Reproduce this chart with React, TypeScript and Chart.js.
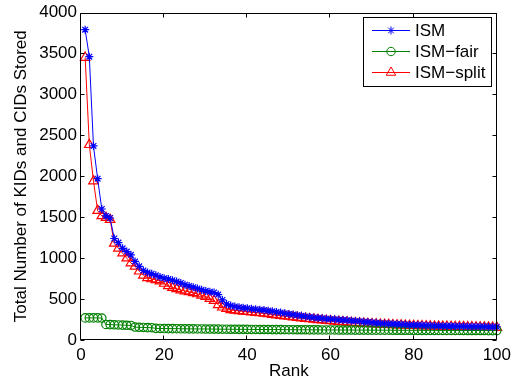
import React, { useEffect, useRef } from "react";
import { Chart, registerables } from "chart.js";
import { drawPoint } from "chart.js/helpers";

Chart.register(...registerables);

// ---------- data ----------
const ranks: number[] = Array.from({ length: 100 }, (_, i) => i + 1);

const ismValues: number[] = [
  3790, 3460, 2370, 1970, 1600, 1515, 1490, 1240, 1190, 1120,
  1080, 1040, 960, 900, 850, 825, 810, 790, 770, 755,
  745, 730, 715, 695, 675, 660, 645, 630, 615, 600,
  590, 580, 555, 490, 440, 420, 410, 400, 395, 388,
  382, 376, 370, 365, 358, 350, 342, 335, 326, 318,
  310, 303, 295, 288, 282, 275, 270, 265, 260, 256,
  252, 248, 244, 240, 236, 232, 228, 224, 220, 215,
  210, 206, 203, 200, 197, 194, 191, 188, 186, 184,
  182, 180, 178, 177, 175, 174, 172, 171, 170, 169,
  168, 167, 166, 166, 165, 164, 164, 163, 162, 162,
];

const ismFairValues: number[] = [
  270, 270, 270, 270, 268, 190, 188, 186, 184, 182,
  180, 178, 158, 155, 153, 151, 150, 142, 141, 140,
  139, 139, 138, 137, 137, 136, 136, 135, 135, 134,
  134, 133, 133, 132, 132, 131, 131, 130, 130, 130,
  129, 129, 128, 128, 128, 127, 127, 127, 126, 126,
  126, 125, 125, 125, 124, 124, 124, 123, 123, 123,
  123, 122, 122, 122, 122, 121, 121, 121, 121, 120,
  120, 120, 120, 120, 119, 119, 119, 119, 119, 118,
  118, 118, 118, 118, 118, 117, 117, 117, 117, 117,
  117, 116, 116, 116, 116, 116, 116, 115, 115, 115,
];

const ismSplitValues: number[] = [
  3450, 2385, 1940, 1580, 1515, 1495, 1470, 1180, 1120, 1060,
  1000, 940, 900, 840, 790, 760, 745, 735, 720, 690,
  660, 640, 625, 610, 598, 588, 576, 562, 545, 530,
  505, 480, 430, 400, 382, 368, 362, 356, 350, 345,
  340, 335, 330, 325, 318, 310, 303, 297, 292, 287,
  280, 274, 268, 262, 257, 252, 247, 242, 237, 233,
  228, 224, 220, 216, 212, 208, 205, 202, 199, 196,
  193, 190, 188, 186, 184, 182, 180, 178, 176, 174,
  172, 171, 170, 168, 167, 166, 165, 164, 163, 162,
  161, 160, 159, 158, 157, 156, 155, 154, 153, 152,
];

const seriesLabels: string[] = ["ISM", "ISM\u2212fair", "ISM\u2212split"];
const xTickValues: number[] = [0, 20, 40, 60, 80, 100];
const yTickValues: number[] = [0, 500, 1000, 1500, 2000, 2500, 3000, 3500, 4000];
const xTitle = "Rank";
const yTitle = "Total Number of KIDs and CIDs Stored";

// ---------- styles ----------
const FONT = "'Liberation Sans', Arial, Helvetica, sans-serif";
const FONT_SIZE = 17;
const colors = ["#0000ff", "#008000", "#ff0000"];
const pointStyles = ["star", "circle", "triangle"];
const pointRadii = [4, 4.2, 5.5];

const framePlugin = {
  id: "matlabFrame",
  afterDraw(chart: any) {
    const { ctx, chartArea, scales } = chart;
    const left = Math.round(chartArea.left) - 0.5;
    const right = Math.round(chartArea.right) - 0.5;
    const top = Math.round(chartArea.top) + 0.5;
    const bottom = Math.round(chartArea.bottom) - 0.5;
    const tl = 4;
    ctx.save();
    ctx.strokeStyle = "#000";
    ctx.lineWidth = 1;
    ctx.beginPath();
    ctx.rect(left, top, right - left, bottom - top);
    for (const v of xTickValues) {
      const px = Math.round(scales.x.getPixelForValue(v)) - 0.5;
      ctx.moveTo(px, bottom);
      ctx.lineTo(px, bottom - tl);
      ctx.moveTo(px, top);
      ctx.lineTo(px, top + tl);
    }
    for (const v of yTickValues) {
      const py = Math.round(scales.y.getPixelForValue(v)) + 0.5;
      ctx.moveTo(left, py);
      ctx.lineTo(left + tl, py);
      ctx.moveTo(right, py);
      ctx.lineTo(right - tl, py);
    }
    ctx.stroke();

    // legend
    const lx = 363.5, ly = 17.5, lw = 128, lh = 69;
    ctx.fillStyle = "#fff";
    ctx.fillRect(lx, ly, lw, lh);
    ctx.strokeRect(lx, ly, lw, lh);
    ctx.font = `${FONT_SIZE}px ${FONT}`;
    ctx.textBaseline = "middle";
    ctx.textAlign = "left";
    chart.data.datasets.forEach((ds: any, i: number) => {
      const y = 30.5 + i * 21;
      ctx.strokeStyle = ds.borderColor;
      ctx.lineWidth = 1;
      ctx.beginPath();
      ctx.moveTo(372, y);
      ctx.lineTo(410, y);
      ctx.stroke();
      ctx.fillStyle = "rgba(0,0,0,0)";
      drawPoint(ctx, { pointStyle: ds.pointStyle, radius: ds.pointRadius, borderWidth: 1, rotation: 0 }, 391, y);
      ctx.fillStyle = "#000";
      ctx.fillText(ds.label, 415, y + 1);
    });
    ctx.restore();
  },
};

export default function App() {
  const canvasRef = useRef<HTMLCanvasElement | null>(null);

  useEffect(() => {
    if (!canvasRef.current) return;
    const seriesValues = [ismValues, ismFairValues, ismSplitValues];
    const chart = new Chart(canvasRef.current, {
      type: "line",
      data: {
        datasets: seriesValues.map((vals, i) => ({
          label: seriesLabels[i],
          data: ranks.map((r, k) => ({ x: r, y: vals[k] })),
          borderColor: colors[i],
          borderWidth: 1,
          backgroundColor: "rgba(0,0,0,0)",
          pointStyle: pointStyles[i],
          pointRadius: pointRadii[i],
          pointBorderColor: colors[i],
          pointBackgroundColor: "rgba(0,0,0,0)",
          pointBorderWidth: 1.2,
          tension: 0,
          fill: false,
          clip: false,
        })),
      },
      options: {
        animation: false,
        responsive: false,
        maintainAspectRatio: false,
        layout: { padding: { left: 0, right: 18, top: 10, bottom: 0 } },
        plugins: { legend: { display: false }, tooltip: { enabled: false } },
        scales: {
          x: {
            type: "linear",
            min: 0,
            max: 100,
            afterBuildTicks: (scale: any) => {
              scale.ticks = xTickValues.map((v) => ({ value: v }));
            },
            afterFit: (scale: any) => {
              scale.height = 43;
            },
            grid: { display: false, drawTicks: false },
            border: { display: false },
            ticks: {
              color: "#000",
              padding: 5,
              maxRotation: 0,
              callback: (v: any) => String(v),
              font: { family: FONT, size: FONT_SIZE, lineHeight: 1.2 },
            },
            title: {
              display: true,
              text: xTitle,
              color: "#000",
              padding: { top: 0, bottom: 1 },
              font: { family: FONT, size: FONT_SIZE, lineHeight: 1.2 },
            },
          },
          y: {
            type: "linear",
            min: 0,
            max: 4000,
            afterBuildTicks: (scale: any) => {
              scale.ticks = yTickValues.map((v) => ({ value: v }));
            },
            afterFit: (scale: any) => {
              scale.width = 81;
            },
            grid: { display: false, drawTicks: false },
            border: { display: false },
            ticks: {
              color: "#000",
              padding: 4,
              callback: (v: any) => String(v),
              font: { family: FONT, size: FONT_SIZE, lineHeight: 1 },
            },
            title: {
              display: true,
              text: yTitle,
              color: "#000",
              padding: { top: 11, bottom: 0 },
              font: { family: FONT, size: FONT_SIZE, lineHeight: 1.2 },
            },
          },
        },
      },
      plugins: [framePlugin],
    } as any);
    return () => chart.destroy();
  }, []);

  return (
    <div style={{ position: "absolute", left: 0, top: 0, width: 516, height: 383, background: "#fff" }}>
      <canvas ref={canvasRef} width={516} height={383} style={{ display: "block" }} />
    </div>
  );
}
